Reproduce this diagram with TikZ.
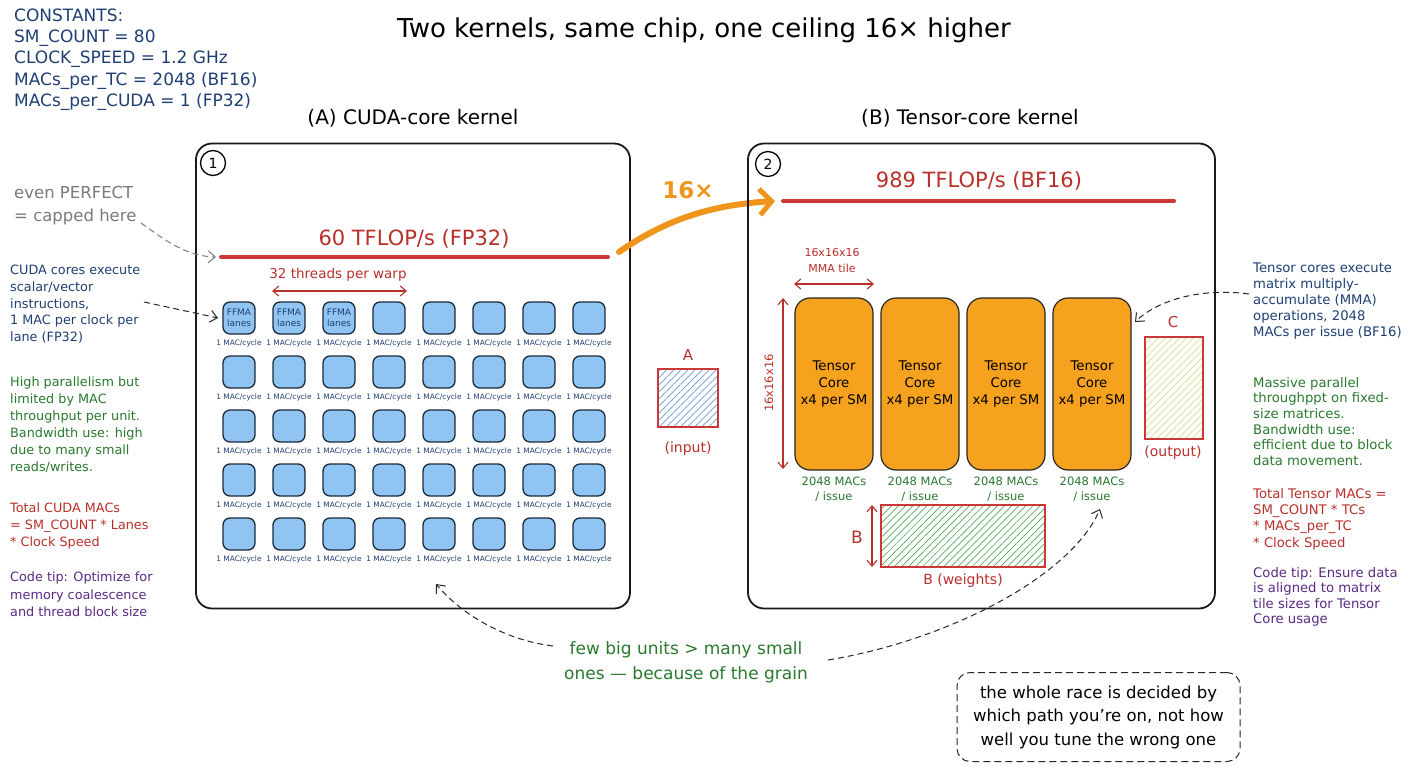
\documentclass[tikz,border=0pt]{standalone}
\usepackage{fontspec}
\setmainfont{DejaVu Sans}
\usetikzlibrary{arrows.meta,patterns.meta,calc}
\definecolor{navy}{HTML}{1F3F73}
\definecolor{redtxt}{HTML}{B8302A}
\definecolor{redline}{HTML}{CC3838}
\definecolor{greentxt}{HTML}{2A7A2E}
\definecolor{purpletxt}{HTML}{5A2A86}
\definecolor{graytxt}{HTML}{7A7A7A}
\definecolor{orangefill}{HTML}{F7A21F}
\definecolor{orangearr}{HTML}{F0951C}
\definecolor{cellblue}{HTML}{90C5F3}
\definecolor{cellborder}{HTML}{1C2B3A}
\definecolor{hatchA}{HTML}{6A9BD8}
\definecolor{hatchB}{HTML}{55A85A}
\definecolor{hatchC}{HTML}{D8DC8E}
\newcommand\fs[2]{\fontsize{#1}{#2}\selectfont}
\begin{document}
\begin{tikzpicture}[x=1pt,y=-1pt,
  panel/.style={draw=black!90, line width=1.8pt, rounded corners=16pt, inner sep=0pt},
  numcirc/.style={circle, draw=black, line width=1.3pt, minimum size=25pt, inner sep=0pt, font=\fs{14}{14}},
  ptitle/.style={font=\fs{20}{22}},
  ceil/.style={draw=redline, line width=4pt, line cap=round},
  ceillbl/.style={text=redtxt, font=\fs{21}{24}},
  cell/.style={draw=cellborder, fill=cellblue, line width=1.3pt, rounded corners=7pt, minimum width=32pt, minimum height=32pt, inner sep=0pt},
  maclbl/.style={text=navy, font=\fs{7.4}{8}, inner sep=0pt},
  ffma/.style={text=navy, font=\fs{9}{10.5}, align=center, inner sep=0pt},
  dblred/.style={draw=redtxt, line width=1.1pt, {Straight Barb[length=6pt,width=10pt]}-{Straight Barb[length=6pt,width=10pt]}},
  tc/.style={draw=black!85, fill=orangefill, line width=1.2pt, rounded corners=15pt, minimum width=78pt, minimum height=172pt, align=center, font=\fs{13.3}{17}, inner sep=0pt},
  issue/.style={text=greentxt, font=\fs{11.5}{15}, align=center, inner sep=0pt},
  hbox/.style={draw=redline, line width=1.1pt, inner sep=0pt},
  note/.style={anchor=north west, align=left, inner sep=0pt},
  dasharr/.style={draw=black!85, line width=1pt, dash pattern=on 6pt off 4pt, -{Straight Barb[length=7pt,width=12pt]}},
]
\useasboundingbox (0,0) rectangle (1408,768);
\fill[white] (0,0) rectangle (1408,768);

% title and constants
\node[font=\fs{26}{30}] (title) at (704,30) {Two kernels, same chip, one ceiling 16× higher};
\node[note, text=navy, font=\fs{17}{21.3}] (const) at (14,8.5) {CONSTANTS:\\SM\_COUNT = 80\\CLOCK\_SPEED = 1.2 GHz\\MACs\_per\_TC = 2048 (BF16)\\MACs\_per\_CUDA = 1 (FP32)};

% panel A
\node[ptitle] (tA) at (413,118) {(A) CUDA-core kernel};
\node[panel, minimum width=434pt, minimum height=465pt] (pA) at (413,376) {};
\node[numcirc] (n1) at (213,163) {1};
\coordinate (cA1) at (221,257);
\coordinate (cA2) at (608,257);
\draw[ceil] (cA1) -- (cA2);
\node[ceillbl] (capA) at (414,239) {60 TFLOP/s (FP32)};
\node[text=redtxt, font=\fs{13.5}{15}] (warp) at (338,275) {32 threads per warp};
\coordinate (w1) at (272,291);
\coordinate (w2) at (407,291);
\draw[dblred] (w1) -- (w2);
\foreach \r in {0,...,4}{
  \foreach \c in {0,...,7}{
    \node[cell] (c\r\c) at ({239+50*\c},{318+54*\r}) {};
    \node[maclbl] (m\r\c) at ({239+50*\c},{343+54*\r}) {1 MAC/cycle};
  }
}
\node[ffma] (f0) at (c00) {FFMA\\lanes};
\node[ffma] (f1) at (c01) {FFMA\\lanes};
\node[ffma] (f2) at (c02) {FFMA\\lanes};

% input A
\node[text=redtxt, font=\fs{15}{16}] (Alab) at (688,355) {A};
\node[hbox, minimum width=60pt, minimum height=58pt, pattern={Lines[angle=45,distance=5pt,line width=0.7pt]}, pattern color=hatchA] (Abox) at (688,398) {};
\node[text=redtxt, font=\fs{14}{16}] (Ain) at (688,449) {(input)};

% left notes
\node[note, text=graytxt, font=\fs{16.5}{23}] (perf) at (14,186) {even PERFECT\\= capped here};
\node[note, text=navy, font=\fs{12.8}{16.7}] (cudanote) at (10,265) {CUDA cores execute\\scalar/vector\\instructions,\\1 MAC per clock per\\lane (FP32)};
\node[note, text=greentxt, font=\fs{12.8}{17}] (hp) at (10,377) {High parallelism but\\limited by MAC\\throughput per unit.\\Bandwidth use: high\\due to many small\\reads/writes.};
\node[note, text=redtxt, font=\fs{12.8}{16.7}] (totA) at (10,503) {Total CUDA MACs\\= SM\_COUNT * Lanes\\* Clock Speed};
\node[note, text=purpletxt, font=\fs{12.8}{17.5}] (tipA) at (10,572) {Code tip: Optimize for\\memory coalescence\\and thread block size};

\coordinate (g0) at (141,223);
\coordinate (g1) at (216,257);
\draw[dasharr, draw=graytxt] (g0) .. controls (165,240) and (185,256) .. (g1);
\coordinate (k0) at (144,302);
\coordinate (k1) at (218,318);
\draw[dasharr] (k0) -- (k1);

% orange arrow
\coordinate (o0) at (619,252);
\coordinate (o1) at (775,201);
\draw[draw=orangearr, line width=6pt, line cap=round, -{Straight Barb[length=12pt,width=26pt,line width=5pt]}] (o0) .. controls (665,220) and (710,205) .. (o1);
\node[text=orangearr, font=\bfseries\fs{23}{26}] (x16) at (688,190) {16×};

% panel B
\node[ptitle] (tB) at (970,118) {(B) Tensor-core kernel};
\node[panel, minimum width=467pt, minimum height=465pt] (pB) at (981.5,376) {};
\node[numcirc] (n2) at (768,164) {2};
\coordinate (cB1) at (783,201);
\coordinate (cB2) at (1174,201);
\draw[ceil] (cB1) -- (cB2);
\node[ceillbl] (capB) at (979,181) {989 TFLOP/s (BF16)};
\node[text=redtxt, font=\fs{11}{16}, align=center] (mma) at (832,260) {16x16x16\\MMA tile};
\coordinate (t1) at (794,284);
\coordinate (t2) at (874,284);
\draw[dblred] (t1) -- (t2);
\coordinate (v1) at (783,298);
\coordinate (v2) at (783,469);
\draw[dblred] (v1) -- (v2);
\node[text=redtxt, font=\fs{11.5}{12}, rotate=90] (vlbl) at (769,383) {16x16x16};

\foreach \i/\x in {1/834,2/920,3/1006,4/1092}{
  \node[tc] (tc\i) at (\x,384) {Tensor\\Core\\x4 per SM};
  \node[issue] (iss\i) at (\x,489) {2048 MACs\\/ issue};
}

% C output
\node[text=redtxt, font=\fs{15}{16}] (Clab) at (1173,322) {C};
\node[hbox, minimum width=58pt, minimum height=102pt, pattern={Lines[angle=45,distance=5pt,line width=0.7pt]}, pattern color=hatchC] (Cbox) at (1174,388) {};
\node[text=redtxt, font=\fs{14}{16}] (Cout) at (1173,453) {(output)};

% B weights
\node[hbox, minimum width=164pt, minimum height=62pt, pattern={Lines[angle=45,distance=5pt,line width=0.7pt]}, pattern color=hatchB] (Bbox) at (963,536) {};
\node[text=redtxt, font=\fs{17}{18}] (Blab) at (857,537) {B};
\coordinate (b1) at (872,505);
\coordinate (b2) at (872,567);
\draw[dblred] (b1) -- (b2);
\node[text=redtxt, font=\fs{14}{16}] (Bw) at (963,581) {B (weights)};

% right notes
\node[note, text=navy, font=\fs{13.2}{15.9}] (tcnote) at (1253,263) {Tensor cores execute\\matrix multiply-\\accumulate (MMA)\\operations, 2048\\MACs per issue (BF16)};
\node[note, text=greentxt, font=\fs{13.2}{15.6}] (mp) at (1253,377) {Massive parallel\\throughppt on fixed-\\size matrices.\\Bandwidth use:\\efficient due to block\\data movement.};
\node[note, text=redtxt, font=\fs{13.2}{16.3}] (totB) at (1253,488) {Total Tensor MACs =\\SM\_COUNT * TCs\\* MACs\_per\_TC\\* Clock Speed};
\node[note, text=purpletxt, font=\fs{13.2}{15.4}] (tipB) at (1253,567) {Code tip: Ensure data\\is aligned to matrix\\tile sizes for Tensor\\Core usage};

\coordinate (r0) at (1249,294);
\coordinate (r1) at (1135,322);
\draw[dasharr] (r0) .. controls (1205,288) and (1160,298) .. (r1);

% bottom
\node[text=greentxt, font=\fs{17}{25}, align=center] (grain) at (686,662) {few big units > many small\\ones — because of the grain};
\coordinate (gl0) at (553,646);
\coordinate (gl1) at (436,584);
\draw[dasharr] (gl0) .. controls (505,640) and (462,615) .. (gl1);
\coordinate (gr0) at (828,660);
\coordinate (gr1) at (1100,509);
\draw[dasharr] (gr0) .. controls (950,640) and (1072,575) .. (gr1);

\node[draw=black!85, line width=1pt, dash pattern=on 7pt off 4pt, rounded corners=13pt, minimum width=283pt, minimum height=89pt, align=center, font=\fs{16.5}{23.5}, inner sep=0pt] (race) at (1098.5,717) {the whole race is decided by\\which path you’re on, not how\\well you tune the wrong one};
\end{tikzpicture}
\end{document}
